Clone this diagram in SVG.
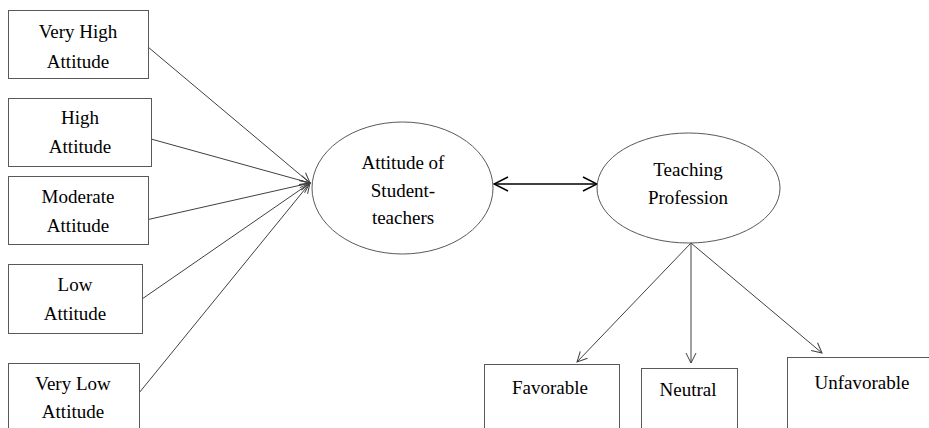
<svg xmlns="http://www.w3.org/2000/svg" width="929" height="428" viewBox="0 0 929 428">
<style>
.box{fill:#fff;stroke:#595959;stroke-width:1}
.ell{fill:#fff;stroke:#595959;stroke-width:1}
.t{font-family:'Times New Roman',Times,'Liberation Serif',Tinos,'Noto Serif','DejaVu Serif',serif;font-size:19px;fill:#000;text-anchor:middle}
.c{fill:none;stroke:#404040;stroke-width:1}
.d{fill:none;stroke:#000;stroke-width:1.5}
</style>
<defs>
<marker id="ah" viewBox="0 0 12 12" refX="11" refY="6" markerWidth="12" markerHeight="12" markerUnits="userSpaceOnUse" orient="auto-start-reverse">
<path d="M1,1 L11,6 L1,11" fill="none" stroke="#404040" stroke-width="1"/>
</marker>
<marker id="ah2" viewBox="0 0 16 16" refX="15" refY="8" markerWidth="16" markerHeight="16" markerUnits="userSpaceOnUse" orient="auto-start-reverse">
<path d="M1,1 L15,8 L1,15" fill="none" stroke="#000" stroke-width="1.5"/>
</marker>
</defs>
<rect width="929" height="428" fill="#fff"/>
<g id="connectors">
<line class="c" x1="148" y1="47" x2="310" y2="183" marker-end="url(#ah)"/>
<line class="c" x1="151" y1="139" x2="310" y2="183" marker-end="url(#ah)"/>
<line class="c" x1="146" y1="220" x2="310" y2="183" marker-end="url(#ah)"/>
<line class="c" x1="142" y1="299" x2="310" y2="183" marker-end="url(#ah)"/>
<line class="c" x1="139" y1="393" x2="310" y2="183" marker-end="url(#ah)"/>
<line class="d" x1="494" y1="184" x2="597" y2="184" marker-start="url(#ah2)" marker-end="url(#ah2)"/>
<line class="c" x1="691" y1="243" x2="577" y2="362" marker-end="url(#ah)"/>
<line class="c" x1="691" y1="243" x2="691" y2="363" marker-end="url(#ah)"/>
<line class="c" x1="691" y1="243" x2="822" y2="353" marker-end="url(#ah)"/>
</g>
<g id="very-high">
<rect class="box" x="8.5" y="10.5" width="140" height="68"/>
<text class="t" x="78" y="38">Very High</text>
<text class="t" x="78" y="68">Attitude</text>
</g>
<g id="high">
<rect class="box" x="8.5" y="98.5" width="143" height="68"/>
<text class="t" x="80" y="124">High</text>
<text class="t" x="80" y="153">Attitude</text>
</g>
<g id="moderate">
<rect class="box" x="8.5" y="176.5" width="140" height="68"/>
<text class="t" x="78" y="203">Moderate</text>
<text class="t" x="78" y="232">Attitude</text>
</g>
<g id="low">
<rect class="box" x="8.5" y="264.5" width="134" height="69"/>
<text class="t" x="75" y="291">Low</text>
<text class="t" x="75" y="320">Attitude</text>
</g>
<g id="very-low">
<rect class="box" x="8.5" y="363.5" width="131" height="80"/>
<text class="t" x="73" y="390">Very Low</text>
<text class="t" x="73" y="418">Attitude</text>
</g>
<g id="attitude-student-teachers">
<ellipse class="ell" cx="402.5" cy="188" rx="90.5" ry="66"/>
<text class="t" x="403" y="169">Attitude  of</text>
<text class="t" x="403" y="197">Student-</text>
<text class="t" x="403" y="224">teachers</text>
</g>
<g id="teaching-profession">
<ellipse class="ell" cx="688.5" cy="188" rx="91.5" ry="55"/>
<text class="t" x="688" y="176">Teaching</text>
<text class="t" x="688" y="204">Profession</text>
</g>
<g id="favorable">
<rect class="box" x="484.5" y="364.5" width="135" height="80"/>
<text class="t" x="550" y="394">Favorable</text>
</g>
<g id="neutral">
<rect class="box" x="641.5" y="368.5" width="96" height="80"/>
<text class="t" x="688" y="396">Neutral</text>
</g>
<g id="unfavorable">
<rect class="box" x="787.5" y="357.5" width="150" height="90"/>
<text class="t" x="862" y="389">Unfavorable</text>
</g>
</svg>
